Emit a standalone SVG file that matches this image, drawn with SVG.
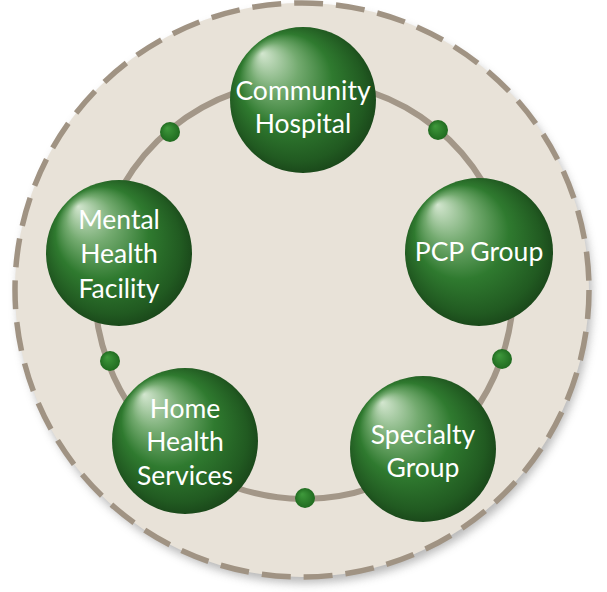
<svg xmlns="http://www.w3.org/2000/svg" width="607" height="592" viewBox="0 0 607 592">
  <defs>
    <radialGradient id="ball" cx="0.5" cy="0.5" r="0.55" fx="0.22" fy="0.18">
      <stop offset="0" stop-color="#d3e6cf"/>
      <stop offset="0.3" stop-color="#73aa6f"/>
      <stop offset="0.58" stop-color="#2f7a2f"/>
      <stop offset="0.85" stop-color="#215a21"/>
      <stop offset="1" stop-color="#173f17"/>
    </radialGradient>
    <radialGradient id="dot" cx="0.5" cy="0.5" r="0.5" fx="0.35" fy="0.3">
      <stop offset="0" stop-color="#3f9a3c"/>
      <stop offset="1" stop-color="#206b20"/>
    </radialGradient>
    <filter id="shadow" x="-10%" y="-10%" width="120%" height="120%">
      <feGaussianBlur stdDeviation="5"/>
    </filter>
    <style>
      .ring { fill: none; stroke: #a39788; stroke-width: 6; }
      .dot { fill: url(#dot); }
      .node { fill: url(#ball); }
      .label { fill: #ffffff; font-family: "Lato", "Open Sans", sans-serif; font-size: 26.5px; text-anchor: middle; }
    </style>
  </defs>

  <rect width="607" height="592" fill="#ffffff"/>

  <g id="background">
    <circle cx="305" cy="296" r="287" fill="#9a9a9a" opacity="0.7" filter="url(#shadow)"/>
    <circle cx="302" cy="290" r="287" fill="#e8e2d8" stroke="#a09383" stroke-width="5.5" stroke-dasharray="29 13"/>
  </g>

  <g id="connectors">
    <path class="ring" d="M304,81 A209,209 0 0 1 508.4,246.5"/>
    <path class="ring" d="M508.4,246.5 A209,209 0 0 1 429.8,456.9"/>
    <path class="ring" d="M429.8,456.9 A209,209 0 0 1 175.3,454.7"/>
    <path class="ring" d="M175.3,454.7 A209,209 0 0 1 98.8,250.1"/>
    <path class="ring" d="M98.8,250.1 A209,209 0 0 1 304,81"/>
    <circle class="dot" cx="438" cy="130" r="10"/>
    <circle class="dot" cx="502" cy="359" r="10"/>
    <circle class="dot" cx="305" cy="498" r="10"/>
    <circle class="dot" cx="110" cy="361" r="10"/>
    <circle class="dot" cx="170" cy="132" r="10"/>
  </g>

  <g id="community-hospital">
    <circle class="node" cx="303" cy="100" r="73"/>
    <text class="label" x="303" y="100">Community</text>
    <text class="label" x="303" y="133">Hospital</text>
  </g>

  <g id="pcp-group">
    <circle class="node" cx="479" cy="252" r="74"/>
    <text class="label" x="479" y="261">PCP Group</text>
  </g>

  <g id="specialty-group">
    <circle class="node" cx="423" cy="449" r="73"/>
    <text class="label" x="423" y="444">Specialty</text>
    <text class="label" x="423" y="477">Group</text>
  </g>

  <g id="home-health-services">
    <circle class="node" cx="185" cy="441" r="73"/>
    <text class="label" x="185" y="418">Home</text>
    <text class="label" x="185" y="451">Health</text>
    <text class="label" x="185" y="485">Services</text>
  </g>

  <g id="mental-health-facility">
    <circle class="node" cx="119" cy="253" r="73"/>
    <text class="label" x="119" y="229">Mental</text>
    <text class="label" x="119" y="263">Health</text>
    <text class="label" x="119" y="298">Facility</text>
  </g>
</svg>
